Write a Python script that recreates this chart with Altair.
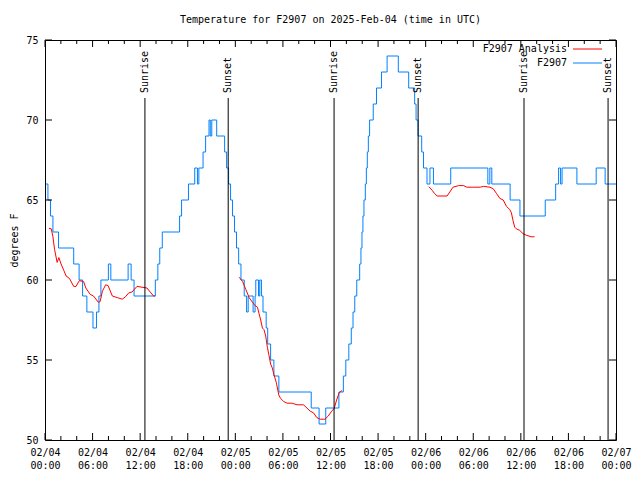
import json
import altair as alt
import pandas as pd

# ---- data (hours after 2025-02-04 00:00 UTC) ----
blue_h = [0.12, 0.37, 0.69, 1.00, 1.71, 3.62, 4.30, 4.74, 5.28, 6.05, 6.49, 6.80, 7.05, 7.99, 8.30,
          10.48, 10.86, 11.23, 13.91, 14.23, 14.47, 14.79, 16.97, 17.22, 18.09, 18.88, 19.22, 19.40,
          19.93, 20.25, 20.68, 20.84, 21.03, 21.65, 22.65, 22.90, 23.15, 23.40, 23.65, 23.90, 24.15,
          24.42, 24.71, 25.12, 25.42, 25.62, 26.24, 26.49, 26.58, 26.92, 27.08, 27.29, 27.49, 27.89,
          28.08, 28.45, 28.86, 29.49, 33.57, 34.56, 35.40, 37.06, 37.62, 37.93, 38.31, 38.62, 38.84,
          39.06, 39.31, 39.68, 39.84, 39.97, 40.09, 40.22, 40.39, 40.52, 40.64, 40.77, 40.93, 41.39,
          41.80, 42.43, 43.14, 44.55, 45.86, 46.61, 46.79, 47.04, 47.50, 47.73, 48.17, 48.54, 48.98,
          51.16, 55.84, 56.09, 56.34, 58.65, 59.89, 63.08, 64.39, 64.76, 65.01, 65.20, 67.07, 69.50,
          70.63, 72.00]
blue_t = [66, 65, 64, 63, 62, 61, 60, 59, 58, 57, 58, 59, 60, 61, 60,
          61, 60, 59, 60, 61, 62, 63, 64, 65, 66, 67, 66, 67,
          68, 69, 70, 69, 70, 69, 68, 67, 66, 65, 64, 63, 62,
          61, 60, 59, 58, 59, 58, 59, 60, 59, 60, 59, 58, 57,
          56, 55, 54, 53, 52, 51, 52, 53, 54, 55, 56, 57, 58,
          59, 60, 61, 62, 63, 64, 65, 66, 67, 68, 69, 70, 71,
          72, 73, 74, 73, 72, 71, 70, 69, 68, 67, 66, 67, 66,
          67, 66, 67, 66, 65, 64, 65, 66, 67, 66, 67, 66, 67,
          66, 66]

red1_h = [0.50, 0.79, 1.00, 1.21, 1.53, 1.75, 2.03, 2.37, 2.66, 3.08, 3.62, 3.91, 4.33, 4.87, 5.15,
          5.70, 6.11, 6.74, 6.95, 7.24, 7.65, 7.95, 8.49, 9.11, 9.74, 10.14, 10.57, 10.98, 11.60,
          12.23, 12.85, 13.35, 13.69, 13.89]
red1_t = [63.23, 63.2, 62.7, 61.9, 61.1, 61.4, 61.0, 60.6, 60.25, 60.1, 59.6, 59.6, 59.96, 59.9, 59.5,
          59.1, 59.0, 58.6, 58.65, 59.3, 59.7, 59.65, 59.0, 58.9, 58.8, 58.95, 59.2, 59.25, 59.6,
          59.55, 59.5, 59.2, 59.0, 59.0]
red2_h = [24.49, 24.92, 25.33, 25.74, 26.17, 26.49, 26.79, 26.99, 27.20, 27.41, 27.61, 27.83, 28.04,
          28.24, 28.45, 28.66, 28.86, 29.16, 29.49, 29.70, 30.11, 30.53, 31.16, 31.78, 32.60, 33.03,
          33.44, 33.85, 34.28, 34.69, 35.31, 35.72, 36.15, 36.47, 36.77, 37.10, 37.47]
red2_t = [60.17, 59.9, 59.4, 58.9, 58.6, 58.4, 58.3, 57.9, 57.5, 57.0, 56.9, 56.5, 55.8,
          55.3, 54.75, 54.5, 54.1, 53.6, 52.8, 52.6, 52.4, 52.3, 52.3, 52.2, 52.2, 52.0,
          51.8, 51.7, 51.4, 51.3, 51.3, 51.5, 51.8, 51.98, 52.5, 52.96, 53.1]
red3_h = [48.41, 48.83, 49.13, 49.45, 50.70, 51.04, 51.45, 52.16, 52.78, 53.19, 54.03, 54.87, 55.28,
          56.11, 56.53, 56.94, 57.36, 57.78, 58.19, 58.61, 58.81, 59.02, 59.23, 59.43, 59.86, 60.27,
          60.68, 61.30, 61.73]
red3_t = [65.83, 65.6, 65.4, 65.25, 65.25, 65.5, 65.8, 65.9, 65.9, 65.8, 65.8, 65.8, 65.85,
          65.8, 65.7, 65.4, 65.1, 65.0, 64.6, 64.4, 64.2, 63.7, 63.3, 63.2, 63.1, 62.9,
          62.8, 62.7, 62.7]

sun_h = [12.6, 23.1, 36.45, 47.05, 60.4, 71.0]
sun_label = ["Sunrise", "Sunset", "Sunrise", "Sunset", "Sunrise", "Sunset"]

x_tick_h = [0, 6, 12, 18, 24, 30, 36, 42, 48, 54, 60, 66, 72]
x_tick_date = ["02/04", "02/04", "02/04", "02/04", "02/05", "02/05", "02/05", "02/05",
               "02/06", "02/06", "02/06", "02/06", "02/07"]
x_tick_time = ["00:00", "06:00", "12:00", "18:00", "00:00", "06:00", "12:00", "18:00",
               "00:00", "06:00", "12:00", "18:00", "00:00"]
x_minor_h = [h for h in range(0, 73, 2) if h % 6 != 0]
y_tick_v = [50, 55, 60, 65, 70, 75]

series_names = ["F2907 Analysis", "F2907"]
series_colors = ["#ff0000", "#0080ff"]

FONT = "DejaVu Sans Mono"
W, H = 571, 400

blue_df = pd.DataFrame({"h": blue_h, "t": blue_t})
red_df = pd.concat([
    pd.DataFrame({"h": red1_h, "t": red1_t, "seg": 1}),
    pd.DataFrame({"h": red2_h, "t": red2_t, "seg": 2}),
    pd.DataFrame({"h": red3_h, "t": red3_t, "seg": 3}),
])
sun_df = pd.DataFrame({"h": sun_h, "label": sun_label})
xmaj_df = pd.DataFrame({"h": x_tick_h})
xmin_df = pd.DataFrame({"h": x_minor_h})
ytick_df = pd.DataFrame({"t": y_tick_v})

xscale = alt.Scale(domain=[0, 72], nice=False, zero=False)
yscale = alt.Scale(domain=[50, 75], nice=False, zero=False)

label_expr = "[{d}[round(datum.value/6)], {t}[round(datum.value/6)]]".format(
    d=json.dumps(x_tick_date), t=json.dumps(x_tick_time))

xaxis = alt.Axis(values=x_tick_h, labelExpr=label_expr, ticks=False, domain=False, grid=False,
                 labelFont=FONT, labelFontSize=10, labelColor="black", labelPadding=7,
                 labelLineHeight=13, labelBaseline="top", title="", labelFlush=False)
yaxis = alt.Axis(values=y_tick_v, ticks=False, domain=False, grid=False, labelFont=FONT,
                 labelFontSize=10, labelColor="black", labelPadding=7, title="degrees F",
                 titleFont=FONT, titleFontSize=10, titleFontWeight="normal", titleColor="black",
                 titleX=-31, titleY=200, titleAngle=270, titleAlign="center",
                 titleBaseline="middle", labelFlush=False)

X = alt.X("h:Q", scale=xscale, axis=xaxis)
Y = alt.Y("t:Q", scale=yscale, axis=yaxis)

blue = alt.Chart(blue_df).mark_line(interpolate="step-after", color=series_colors[1],
                                    strokeWidth=1).encode(x=X, y=Y)

red = alt.Chart(red_df).mark_line(color=series_colors[0], strokeWidth=1).encode(
    x=X, y=Y, detail="seg:N")

sun_rules = alt.Chart(sun_df).mark_rule(color="black", strokeWidth=1).encode(
    x=X, y=alt.value(58), y2=alt.value(H))
sun_text = alt.Chart(sun_df).mark_text(angle=270, align="left", baseline="middle",
                                       font=FONT, fontSize=10, color="black").encode(
    x=X, y=alt.value(53), text="label:N")


def xticks(df, y0, y1):
    return alt.Chart(df).mark_rule(color="black", strokeWidth=1).encode(
        x=X, y=alt.value(y0), y2=alt.value(y1))


def yticks(x0, x1):
    return alt.Chart(ytick_df).mark_rule(color="black", strokeWidth=1).encode(
        y=Y, x=alt.value(x0), x2=alt.value(x1))


tick_layers = [
    xticks(xmaj_df, H, H - 7), xticks(xmaj_df, 0, 7),
    xticks(xmin_df, H, H - 4), xticks(xmin_df, 0, 4),
    yticks(0, 7), yticks(W, W - 7),
]

legend_layers = []
for i, (name, col) in enumerate(zip(series_names, series_colors)):
    yy = 9 + 14 * i
    ldf = pd.DataFrame({"name": [name]})
    legend_layers.append(alt.Chart(ldf).mark_text(align="right", baseline="middle", font=FONT,
                                                  fontSize=10, color="black").encode(
        x=alt.value(W - 49), y=alt.value(yy), text="name:N"))
    legend_layers.append(alt.Chart(ldf).mark_rule(color=col, strokeWidth=1).encode(
        x=alt.value(W - 43), x2=alt.value(W - 14), y=alt.value(yy)))

chart = alt.layer(blue, red, sun_rules, sun_text, *tick_layers, *legend_layers).properties(
    width=W, height=H,
    title=alt.TitleParams(text="Temperature for F2907 on 2025-Feb-04 (time in UTC)", font=FONT,
                          fontSize=10, fontWeight="normal", color="black", frame="group",
                          anchor="middle", baseline="bottom", offset=0),
    autosize=alt.AutoSizeParams(type="none"),
    padding={"left": 37, "top": 32, "right": 16, "bottom": 32},
    background="white",
).configure_view(stroke="black", strokeWidth=1)

chart.save("out.html", embed_options={"renderer": "svg", "actions": False})
